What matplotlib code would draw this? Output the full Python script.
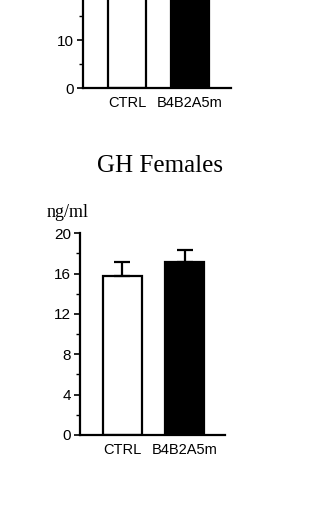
import matplotlib
matplotlib.use("Agg")
import matplotlib.pyplot as plt
from matplotlib.ticker import MultipleLocator

# Data
categories = ["CTRL", "B4B2A5m"]
top_values = [27.0, 30.0]          # upper panel (cropped in the reference)
gh_values = [15.8, 17.2]           # GH Females, ng/ml
gh_errors = [1.35, 1.15]
bar_colors = ["white", "black"]

title = "GH Females"
unit_label = "ng/ml"

W, H = 328, 512
fig = plt.figure(figsize=(W / 100, H / 100), dpi=100)

sans = ["Liberation Sans", "DejaVu Sans"]
serif = ["Liberation Serif", "DejaVu Serif"]


def style_axes(ax, major, minor):
    for s in ["top", "right"]:
        ax.spines[s].set_visible(False)
    for s in ["left", "bottom"]:
        ax.spines[s].set_linewidth(1.6)
    ax.yaxis.set_major_locator(MultipleLocator(major))
    ax.yaxis.set_minor_locator(MultipleLocator(minor))
    ax.tick_params(axis="y", which="major", direction="out", length=4.5, width=1.2, pad=2,
                   labelsize=11)
    ax.tick_params(axis="y", which="minor", direction="out", length=3, width=1.0)
    ax.tick_params(axis="x", which="both", length=0, pad=6, labelsize=10.5)
    for lab in ax.get_xticklabels() + ax.get_yticklabels():
        lab.set_fontfamily(sans)


x = list(range(len(categories)))

# Upper (cropped) panel: only its lower part is visible
top_ymax = 18.4
ax1 = fig.add_axes([83 / W, 1 - 88 / H, 148 / W, top_ymax * 4.8 / H])
ax1.bar(x, top_values, width=0.6, color=bar_colors, edgecolor="black", linewidth=1.6)
ax1.set_ylim(0, top_ymax)
ax1.set_xlim(-0.70, 1.65)
ax1.set_xticks(x)
ax1.set_xticklabels(categories)
ax1.spines["left"].set_bounds(0, top_ymax + 2)
style_axes(ax1, 10, 5)

# GH Females panel
ax2 = fig.add_axes([80 / W, 1 - 435 / H, 145 / W, (435 - 233.3) / H])
ax2.bar(x, gh_values, width=0.62, color=bar_colors, edgecolor="black", linewidth=1.6,
        yerr=[[0, 0], gh_errors],
        error_kw=dict(ecolor="black", elinewidth=1.6, capsize=6, capthick=1.6))
ax2.set_ylim(0, 20)
ax2.set_xlim(-0.685, 1.653)
ax2.set_xticks(x)
ax2.set_xticklabels(categories)
style_axes(ax2, 4, 2)

fig.text(160 / W, 1 - 172 / H, title, ha="center", va="baseline",
         fontsize=18, family=serif)
fig.text(47 / W, 1 - 217 / H, unit_label, ha="left", va="baseline",
         fontsize=13, family=serif)

fig.savefig("out.png", dpi=100, facecolor="white")
